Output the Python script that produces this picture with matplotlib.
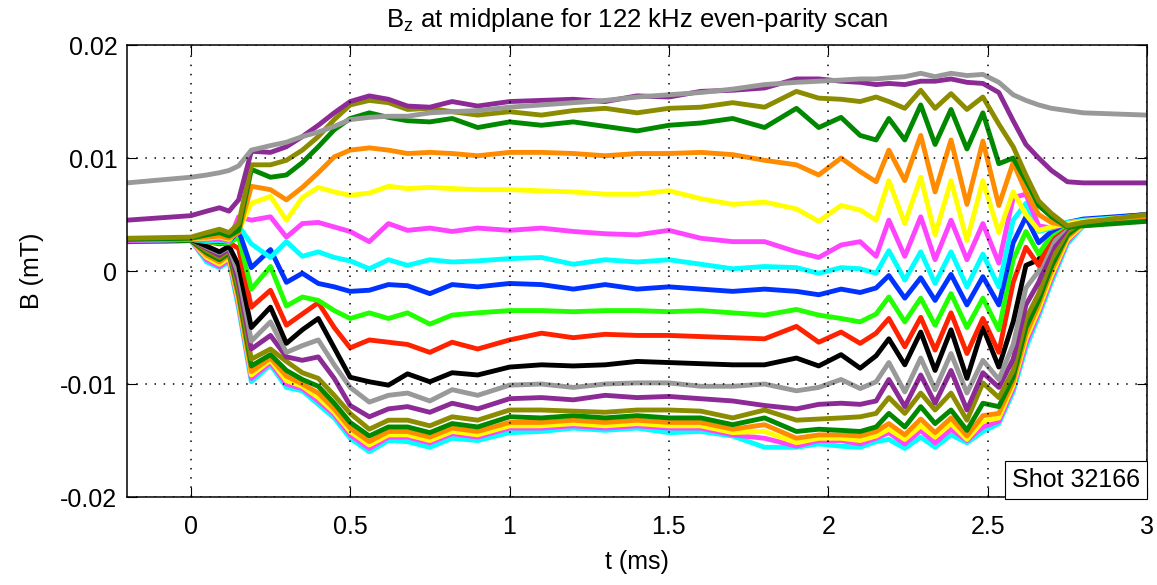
import matplotlib.pyplot as plt
import numpy as np

plt.rcParams['font.family'] = ['Liberation Sans', 'DejaVu Sans']
plt.rcParams['mathtext.fontset'] = 'custom'
plt.rcParams['mathtext.rm'] = 'Liberation Sans'
plt.rcParams['mathtext.it'] = 'Liberation Sans'

# time base (ms)
t = [-0.2, 0.0, 0.05, 0.09, 0.12, 0.15, 0.19,
     0.25, 0.3, 0.35, 0.4, 0.45, 0.5, 0.56, 0.62, 0.68, 0.75, 0.82, 0.9, 1.0,
     1.1, 1.2, 1.3, 1.4, 1.5, 1.6, 1.7, 1.8, 1.9, 1.97, 2.04, 2.1, 2.15,
     2.19, 2.24, 2.29, 2.335, 2.385, 2.435, 2.485, 2.535, 2.58, 2.62, 2.66, 2.7, 2.75, 2.8, 3.0]

# Bz traces, in units of 1e-3 mT (top to bottom)
gray_hi = [7.8, 8.3, 8.5, 8.7, 8.9, 9.3, 10.7,
           11.1, 11.4, 11.9, 12.3, 12.8, 13.4, 13.6, 13.7, 13.7, 14.0, 14.1, 14.2, 14.5,
           14.7, 14.9, 15.1, 15.4, 15.6, 15.8, 16.1, 16.5, 16.7, 16.8, 16.9, 17.0, 17.0,
           17.1, 17.2, 17.5, 17.2, 17.5, 17.3, 17.4, 16.7, 15.6, 15.1, 14.7, 14.4, 14.2, 14.0, 13.8]
purple_hi = [4.5, 4.9, 5.3, 5.6, 5.3, 6.3, 10.6,
             10.5, 11.0, 11.9, 12.9, 14.0, 15.0, 15.5, 15.2, 14.6, 14.5, 15.0, 14.6, 15.0,
             15.1, 15.2, 15.0, 15.5, 15.4, 15.9, 16.0, 16.2, 17.0, 17.0, 16.8, 16.7, 16.5,
             16.6, 16.5, 16.8, 16.8, 17.0, 16.7, 16.6, 15.8, 13.3, 11.2, 10.0, 8.9, 7.9, 7.8, 7.8]
olive_hi = [2.9, 3.0, 3.4, 3.7, 3.4, 4.2, 9.4,
            9.4, 9.8, 10.7, 11.9, 13.4, 14.7, 15.1, 14.9, 14.3, 14.4, 14.1, 13.8, 14.1,
            13.8, 14.2, 14.4, 14.0, 14.4, 14.5, 14.9, 14.5, 15.9, 15.3, 15.2, 15.0, 15.4,
            15.0, 14.4, 16.0, 14.4, 15.7, 14.3, 15.4, 13.0, 11.0, 8.5, 6.2, 5.1, 4.0, 4.3, 5.0]
green_hi = [2.8, 2.9, 3.2, 3.4, 3.1, 3.6, 9.0,
            8.3, 8.5, 9.6, 11.0, 12.5, 13.5, 14.0, 13.6, 13.3, 13.2, 13.5, 12.7, 13.2,
            12.9, 13.2, 12.8, 12.4, 12.9, 13.1, 13.5, 12.7, 14.4, 12.7, 13.6, 12.0, 11.6,
            13.5, 11.6, 14.7, 11.2, 14.3, 10.8, 14.0, 9.5, 10.0, 8.0, 5.8, 4.8, 3.9, 4.0, 4.4]
orange_hi = [2.8, 2.9, 3.0, 3.1, 2.9, 3.4, 7.5,
             7.2, 6.3, 7.4, 8.7, 10.1, 10.7, 10.9, 10.7, 10.4, 10.5, 10.4, 10.2, 10.5,
             10.5, 10.4, 10.2, 10.4, 10.4, 10.5, 10.3, 9.8, 9.4, 8.5, 10.0, 8.8, 7.9,
             10.7, 8.0, 12.0, 7.0, 11.6, 5.9, 11.5, 5.8, 9.6, 7.0, 5.0, 4.3, 4.0, 4.3, 4.8]
yellow_hi = [2.8, 2.9, 2.9, 3.0, 2.8, 3.6, 6.0,
             6.6, 4.5, 6.5, 7.4, 7.0, 6.7, 6.9, 7.5, 7.3, 7.4, 7.3, 7.2, 7.2,
             7.1, 7.0, 6.8, 6.8, 7.1, 6.4, 5.9, 6.1, 5.5, 4.4, 5.8, 5.4, 4.5,
             8.0, 4.2, 8.3, 3.2, 8.0, 2.7, 8.0, 3.4, 7.0, 5.0, 3.6, 3.9, 4.2, 4.4, 4.9]
magenta_hi = [2.7, 2.8, 2.8, 2.8, 2.7, 4.8, 4.5,
              4.8, 3.0, 4.2, 4.3, 3.9, 3.5, 2.6, 4.2, 3.6, 3.8, 3.5, 3.8, 3.6,
              3.8, 3.5, 3.3, 3.2, 3.6, 2.9, 2.6, 2.6, 1.7, 1.2, 2.3, 2.6, 1.3,
              4.5, 1.3, 4.8, 1.0, 4.5, 1.0, 4.2, 0.7, 6.5, 6.8, 4.0, 3.8, 4.2, 4.4, 4.8]
cyan_hi = [2.7, 2.8, 2.7, 2.7, 2.6, 4.0, 2.4,
           1.2, 2.6, 1.3, 1.7, 1.2, 0.9, 0.2, 1.0, 0.5, 1.0, 0.8, 0.9, 1.1,
           1.2, 0.6, 1.0, 0.8, 1.0, 0.6, 0.2, 0.4, 0.3, -0.2, 0.3, 0.2, -0.2,
           1.8, -0.8, 1.7, -1.1, 1.7, -1.4, 1.5, -1.4, 4.5, 6.0, 3.5, 3.8, 4.3, 4.5, 4.9]
blue = [2.7, 2.8, 2.7, 2.6, 2.6, 3.6, 0.3,
        1.9, -1.0, -0.2, -1.1, -1.4, -1.8, -1.7, -1.2, -1.3, -2.0, -1.2, -1.4, -1.1,
        -1.2, -1.6, -1.2, -1.6, -1.4, -1.6, -1.8, -1.6, -1.8, -2.1, -1.6, -1.9, -1.5,
        -0.4, -2.4, -0.6, -2.6, -0.3, -3.0, -0.5, -3.0, 2.5, 4.8, 2.5, 3.5, 4.3, 4.6, 5.0]
lime = [2.7, 2.8, 2.6, 2.5, 2.5, 3.0, -1.6,
        0.4, -3.1, -2.3, -2.6, -3.5, -4.2, -3.7, -4.2, -3.7, -4.7, -3.9, -3.7, -3.5,
        -3.5, -3.6, -3.5, -3.5, -3.6, -3.5, -3.7, -3.9, -3.4, -3.9, -4.2, -4.5, -3.8,
        -2.3, -4.5, -2.4, -4.8, -2.0, -5.0, -2.4, -5.2, 1.0, 3.5, 1.5, 3.2, 4.2, 4.5, 5.0]
red = [2.7, 2.8, 2.6, 2.4, 2.5, 2.0, -3.2,
       -1.7, -4.8, -3.8, -2.8, -5.0, -6.8, -6.1, -6.3, -6.5, -7.2, -6.3, -6.9, -6.1,
       -5.5, -5.9, -5.6, -5.7, -5.7, -5.8, -5.9, -6.0, -4.9, -6.3, -5.4, -6.4, -5.5,
       -4.2, -6.7, -4.1, -7.0, -3.7, -7.3, -4.2, -7.2, -1.0, 2.1, 0.5, 3.0, 4.1, 4.5, 5.0]
black = [2.7, 2.8, 2.2, 1.7, 2.2, 0.5, -5.0,
         -3.2, -6.4, -5.2, -4.2, -6.8, -9.4, -9.8, -10.1, -9.1, -9.8, -9.0, -9.2, -8.5,
         -8.3, -8.4, -8.3, -8.0, -8.1, -8.2, -8.3, -8.3, -7.7, -8.4, -7.4, -8.6, -7.5,
         -6.0, -8.3, -5.4, -8.8, -5.2, -9.5, -5.0, -8.5, -4.5, 0.5, 1.0, 3.0, 4.2, 4.5, 4.9]
gray_lo = [2.7, 2.8, 2.1, 1.6, 2.1, -0.3, -6.2,
           -4.5, -7.2, -6.6, -6.1, -8.3, -10.3, -11.6, -11.0, -10.8, -11.5, -10.5, -11.0, -10.1,
           -10.0, -10.3, -10.0, -9.9, -9.9, -10.2, -10.2, -10.0, -10.6, -10.3, -9.6, -10.4, -9.8,
           -8.1, -10.7, -7.7, -10.5, -7.3, -10.8, -7.9, -9.6, -6.5, -1.5, 0.0, 2.4, 4.0, 4.5, 4.9]
purple_lo = [2.7, 2.8, 2.0, 1.4, 2.0, -1.0, -6.9,
             -5.7, -7.6, -7.9, -7.6, -9.5, -11.9, -12.9, -12.2, -12.0, -12.5, -11.7, -12.2, -11.3,
             -11.2, -11.4, -11.0, -11.2, -11.1, -11.3, -11.5, -11.9, -12.2, -11.8, -11.7, -11.8, -11.5,
             -9.6, -12.0, -9.2, -11.7, -8.8, -12.3, -9.0, -10.3, -7.8, -3.0, -1.0, 1.8, 3.8, 4.4, 4.8]
olive_lo = [2.7, 2.8, 1.8, 1.2, 1.8, -1.6, -7.8,
            -6.9, -8.0, -9.0, -9.5, -11.0, -12.6, -14.0, -13.2, -13.2, -13.7, -12.9, -13.2, -12.3,
            -12.3, -12.4, -12.5, -12.3, -12.3, -12.4, -13.0, -12.3, -13.2, -13.1, -13.0, -12.9, -12.6,
            -11.2, -12.6, -10.8, -12.3, -10.8, -13.2, -9.9, -11.2, -8.8, -4.2, -2.0, 1.0, 3.5, 4.4, 5.0]
green_lo = [2.6, 2.7, 1.6, 1.0, 1.6, -2.0, -8.4,
            -7.4, -8.8, -9.6, -10.2, -11.7, -13.4, -14.6, -13.8, -13.8, -14.3, -13.5, -13.8, -12.9,
            -13.0, -12.8, -13.0, -12.8, -13.0, -13.0, -13.6, -13.0, -14.2, -14.0, -14.1, -14.2, -13.8,
            -12.6, -13.8, -12.0, -13.5, -12.3, -14.1, -11.7, -12.0, -9.4, -5.0, -2.6, 0.4, 3.2, 4.3, 4.5]
orange_lo = [2.6, 2.7, 1.4, 0.8, 1.4, -2.4, -8.9,
             -7.7, -9.3, -10.0, -10.8, -12.2, -13.9, -15.1, -14.2, -14.2, -14.7, -13.9, -14.2, -13.4,
             -13.4, -13.2, -13.4, -13.2, -13.4, -13.4, -14.0, -13.6, -14.8, -14.5, -14.5, -14.6, -14.2,
             -13.5, -14.5, -13.1, -14.3, -13.0, -14.6, -12.8, -12.6, -9.8, -5.6, -3.0, 0.0, 3.0, 4.2, 4.6]
yellow_lo = [2.6, 2.7, 1.2, 0.6, 1.2, -2.7, -9.2,
             -7.9, -9.7, -10.2, -11.2, -12.5, -14.2, -15.4, -14.5, -14.5, -15.0, -14.2, -14.5, -13.7,
             -13.7, -13.5, -13.7, -13.5, -13.7, -13.7, -14.3, -14.2, -15.2, -14.8, -14.8, -15.0, -14.6,
             -14.0, -14.9, -13.7, -14.7, -13.5, -14.9, -13.3, -13.0, -10.1, -6.0, -3.4, -0.4, 2.8, 4.1, 4.6]
magenta_lo = [2.6, 2.7, 1.0, 0.4, 1.0, -3.0, -9.5,
              -8.1, -10.0, -10.4, -11.5, -12.7, -14.5, -15.7, -14.7, -14.7, -15.2, -14.4, -14.7, -13.9,
              -13.9, -13.7, -13.9, -13.7, -13.9, -13.9, -14.5, -14.8, -15.5, -15.0, -15.0, -15.3, -14.8,
              -14.3, -15.3, -14.1, -15.2, -14.0, -15.0, -13.8, -13.3, -10.4, -6.4, -3.7, -0.7, 2.6, 4.1, 4.7]
cyan_lo = [2.6, 2.7, 0.8, 0.3, 0.8, -3.3, -9.8,
           -8.3, -10.3, -10.6, -11.8, -13.0, -14.8, -16.0, -15.0, -15.1, -15.6, -14.8, -15.0, -14.3,
           -14.2, -13.9, -14.1, -13.9, -14.3, -14.2, -14.6, -15.6, -15.6, -15.3, -15.5, -15.6, -15.1,
           -14.9, -15.7, -14.7, -15.6, -14.5, -15.2, -14.2, -13.5, -10.7, -6.8, -4.0, -1.0, 2.4, 4.0, 4.7]

traces = [gray_hi, purple_hi, olive_hi, green_hi, orange_hi, yellow_hi, magenta_hi,
          cyan_hi, blue, lime, red, black, gray_lo, purple_lo, olive_lo, green_lo,
          orange_lo, yellow_lo, magenta_lo, cyan_lo]
cycle = ['#999999', '#8c2a96', '#8c8c00', '#008800', '#ff8c00', '#ffff00',
         '#ff44ff', '#00ffff', '#0033ff', '#22ff00', '#ff2200', '#000000']
colors = [cycle[i % 12] for i in range(len(traces))]

fig = plt.figure(figsize=(11.57, 5.85), dpi=100)
ax = fig.add_axes([0.1098, 0.1504, 0.8816, 0.7726])

# first trace ends up on top, like the original
for vals, c in reversed(list(zip(traces, colors))):
    ax.plot(t, np.array(vals) * 1e-3, color=c, lw=3.5,
            solid_joinstyle='round', solid_capstyle='round')

ax.set_xlim(-0.2, 3)
ax.set_ylim(-0.02, 0.02)
ax.set_xticks([0, 0.5, 1, 1.5, 2, 2.5, 3])
ax.set_xticklabels(['0', '0.5', '1', '1.5', '2', '2.5', '3'])
ax.set_yticks([-0.02, -0.01, 0, 0.01, 0.02])
ax.set_yticklabels(['-0.02', '-0.01', '0', '0.01', '0.02'])
ax.set_axisbelow(False)
ax.grid(True, linestyle=(0, (1, 5)), color='black', linewidth=1.1)
ax.tick_params(direction='in', top=True, right=True, length=7, labelsize=18)
ax.tick_params(axis='x', pad=13)
ax.tick_params(axis='y', pad=7)
for s in ax.spines.values():
    s.set_linewidth(1.1)

ax.set_xlabel('t (ms)', fontsize=18, labelpad=8)
ax.set_ylabel('B (mT)', fontsize=18, labelpad=12)
ax.set_title(r'B$_{\rm z}$ at midplane for 122 kHz even-parity scan', fontsize=18.5, pad=13)

ax.text(0.9935, 0.012, 'Shot 32166', transform=ax.transAxes, ha='right', va='bottom',
        fontsize=18, zorder=5,
        bbox=dict(facecolor='white', edgecolor='black', linewidth=0.8, pad=5))

fig.savefig('out.png', dpi=100)
